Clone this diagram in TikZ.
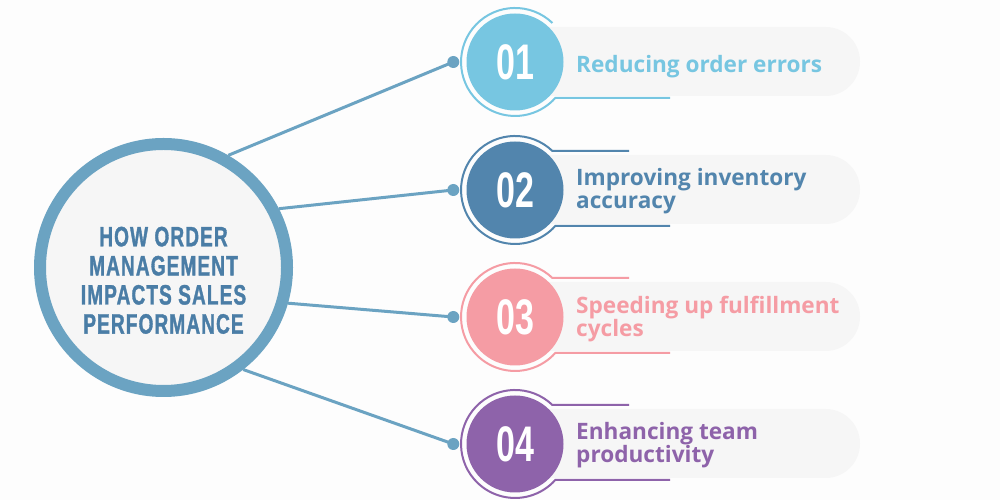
\documentclass[tikz,border=0pt]{standalone}
\usepackage{fontspec}
\setmainfont{Open Sans}
\newfontfamily\titlefont[FakeStretch=0.68,LetterSpace=4,FakeBold=1.2]{Liberation Sans Bold}
\newfontfamily\numfont[FakeStretch=0.68]{Liberation Sans Bold}
\newfontfamily\itemfont{Open Sans}
\definecolor{bgc}{HTML}{FDFDFD}
\definecolor{pillgray}{HTML}{F6F6F6}
\definecolor{ringblue}{HTML}{6BA3C2}
\definecolor{titleblue}{HTML}{4A7DA6}
\definecolor{cone}{HTML}{77C6E1}
\definecolor{ctwo}{HTML}{5285AD}
\definecolor{cthree}{HTML}{F59CA4}
\definecolor{cfour}{HTML}{8E63AA}
\newcommand{\twoline}[2]{\vtop{\baselineskip=23pt\lineskiplimit=-40pt\hbox{#1}\hbox{#2}}}
\begin{document}
\begin{tikzpicture}[x=1pt,y=1pt,
  conn/.style={draw=ringblue,line width=3pt},
  dotnode/.style={circle,fill=ringblue,minimum size=12pt,inner sep=0pt},
  numc/.style={circle,minimum size=97pt,inner sep=0pt,text=white,font=\numfont\fontsize{50}{50}\selectfont},
  ringline/.style={line width=2pt},
  itemtext/.style={anchor=base west,inner sep=0pt,font=\itemfont\bfseries\fontsize{22.6}{23}\selectfont},
  hubstyle/.style={circle,draw=ringblue,line width=12pt,fill=pillgray,minimum size=247pt,inner sep=0pt},
  titlestyle/.style={align=center,text=titleblue,inner sep=0pt,font=\titlefont\fontsize{28}{29.1}\selectfont}
]
\fill[bgc] (0,0) rectangle (1000,500);
\useasboundingbox (0,0) rectangle (1000,500);

% hub
\node[hubstyle] (hub) at (163.5,232.5) {};
\node[titlestyle] (title) at (163.5,219.7) {HOW ORDER\\MANAGEMENT\\IMPACTS SALES\\PERFORMANCE};

% pills
\fill[pillgray] (515,473) -- (825.5,473) arc[start angle=90,end angle=-90,radius=34.5pt] -- (515,404) -- cycle;
\fill[pillgray] (515,345) -- (825.5,345) arc[start angle=90,end angle=-90,radius=34.5pt] -- (515,276) -- cycle;
\fill[pillgray] (515,218) -- (825.5,218) arc[start angle=90,end angle=-90,radius=34.5pt] -- (515,149) -- cycle;
\fill[pillgray] (515,91) -- (825.5,91) arc[start angle=90,end angle=-90,radius=34.5pt] -- (515,22) -- cycle;

% rings
\draw[ringline,draw=cone] (552.4,477) arc[start angle=46.2,end angle=318.2,radius=54pt] -- (670,402);
\draw[ringline,draw=ctwo] (629,349) -- (552.4,349) arc[start angle=46.2,end angle=318.2,radius=54pt] -- (670,274);
\draw[ringline,draw=cthree] (629,222) -- (552.4,222) arc[start angle=46.2,end angle=318.2,radius=54pt] -- (670,147);
\draw[ringline,draw=cfour] (629,95) -- (552.4,95) arc[start angle=46.2,end angle=318.2,radius=54pt] -- (670,20);

% number circles
\node[numc,fill=cone] (n1) at (515,438) {01};
\node[numc,fill=ctwo] (n2) at (515,310) {02};
\node[numc,fill=cthree] (n3) at (515,183) {03};
\node[numc,fill=cfour] (n4) at (515,56) {04};

% dots
\node[dotnode] (d1) at (453.3,438) {};
\node[dotnode] (d2) at (453.3,310) {};
\node[dotnode] (d3) at (453.3,183) {};
\node[dotnode] (d4) at (453.3,56) {};

% connectors
\draw[conn] (hub.60.4) -- (d1.center);
\draw[conn] (hub.27.5) -- (d2.center);
\draw[conn] (hub.-16.5) -- (d3.center);
\draw[conn] (hub.-52) -- (d4.center);

% texts
\node[itemtext,text=cone] (t1) at (576,427.7) {Reducing order errors};
\node[itemtext,text=ctwo] (t2) at (576,314) {\twoline{Improving inventory}{accuracy}};
\node[itemtext,text=cthree] (t3) at (576,186) {\twoline{Speeding up fulfillment}{cycles}};
\node[itemtext,text=cfour] (t4) at (576,60) {\twoline{Enhancing team}{productivity}};
\end{tikzpicture}
\end{document}
